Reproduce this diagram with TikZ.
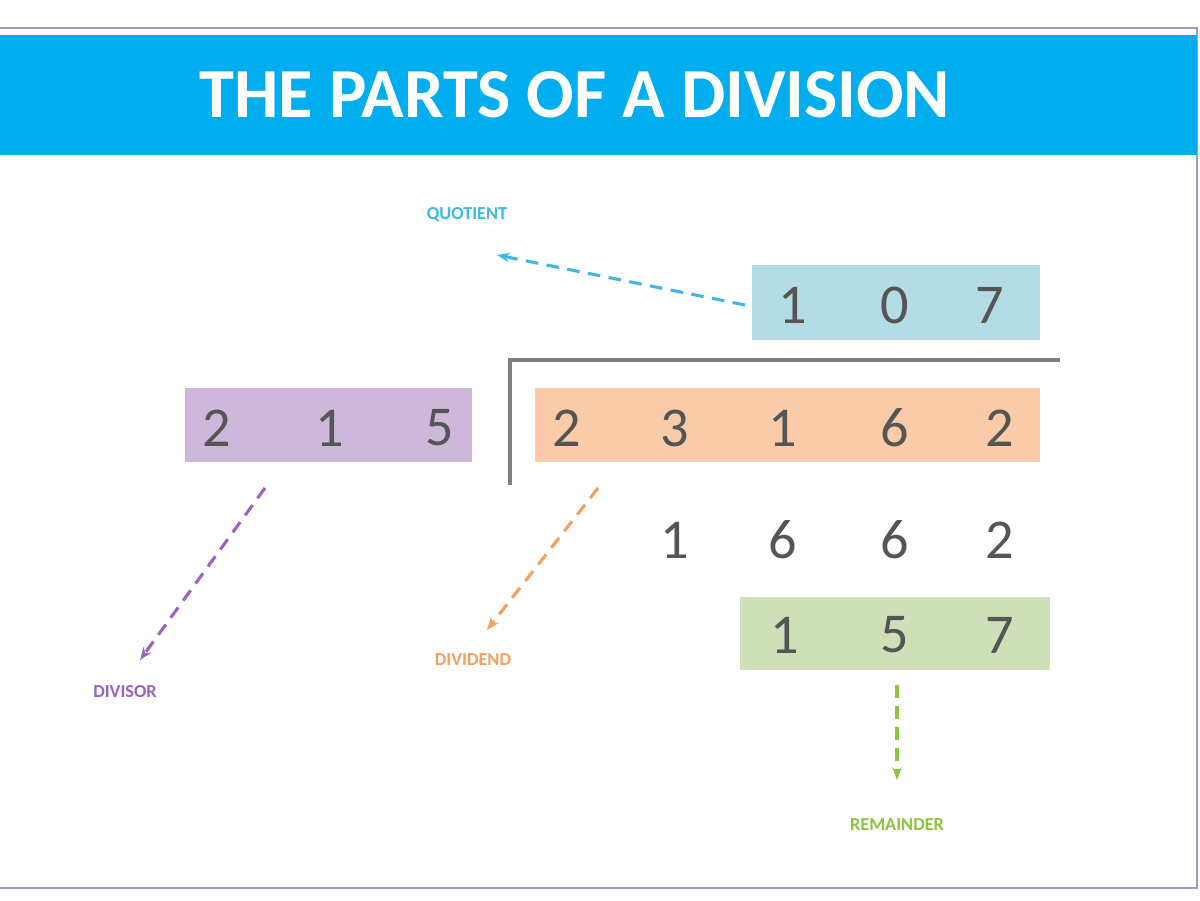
\documentclass[tikz,border=0pt]{standalone}
\usepackage{fontspec}
\setmainfont{Carlito}
\usepackage{tikz}
\usetikzlibrary{positioning,arrows.meta}
\definecolor{titleblue}{HTML}{00AEEF}
\definecolor{qcol}{HTML}{3FB8E6}
\definecolor{qfill}{HTML}{B3DCE4}
\definecolor{pcol}{HTML}{9A63C4}
\definecolor{pfill}{HTML}{CDB8DC}
\definecolor{ocol}{HTML}{F5A05E}
\definecolor{ofill}{HTML}{F9CBA9}
\definecolor{gcol}{HTML}{8CC63F}
\definecolor{gfill}{HTML}{CFDFB8}
\definecolor{digit}{HTML}{555555}
\begin{document}
\begin{tikzpicture}[
	x=0.025cm, y=-0.025cm,
	dig/.style={
		font=\fontsize{40}{40}\selectfont, text=digit
	},
	lbl/.style={
		font=\bfseries\fontsize{13}{13}\selectfont
	},
	hint/.style={
		-{Stealth[length=9pt]}, line width=2.2pt,
		dash pattern=on 9pt off 6pt
	}
	]
	\useasboundingbox (0,0) rectangle (1200,900);
	% Rahmen und Titel
	\draw[draw=blue!30!gray!60, line width=2pt, fill=white] (-5,28) rectangle (1197,888);
	\fill[titleblue] (-5,35) rectangle (1197,155);
	\node[text=white, font=\bfseries\fontsize{50}{50}\selectfont] (title) at (575,95) {THE PARTS OF A DIVISION};
	
	% Farbige Felder
	\fill[qfill] (752,265) rectangle (1040,340);
	\fill[pfill] (185,388) rectangle (472,462);
	\fill[ofill] (535,388) rectangle (1040,462);
	\fill[gfill] (740,597) rectangle (1050,670);
	
	% Divisionszeichen
	\draw[gray, line width=2.5pt] (510,485) -- (510,360) -- (1060,360);
	
	% Ziffern
	\foreach \d/\x in {1/793,0/895,7/990}
		\node[dig] at (\x,305) {\d};
	\foreach \d/\x in {2/217,1/330,5/440}
		\node[dig] at (\x,428) {\d};
	\foreach \d/\x in {2/567,3/675,1/783,6/895,2/1000}
		\node[dig] at (\x,428) {\d};
	\foreach \d/\x in {1/675,6/783,6/895,2/1000}
		\node[dig] at (\x,540) {\d};
	\foreach \d/\x in {1/785,5/895,7/1000}
		\node[dig] at (\x,635) {\d};
	
	% Beschriftungen
	\node[lbl, text=qcol] (quot) at (467,215) {QUOTIENT};
	\node[lbl, text=pcol] (divisor) at (125,692) {DIVISOR};
	\node[lbl, text=ocol] (dividend) at (473,660) {DIVIDEND};
	\node[lbl, text=gcol] (rem) at (897,825) {REMAINDER};
	\coordinate (qs) at (745,305);
	\coordinate (qe) at (497,255);
	\coordinate (ps) at (265,488);
	\coordinate (pe) at (140,660);
	\coordinate (os) at (598,488);
	\coordinate (oe) at (487,630);
	\coordinate (gs) at (897,685);
	\coordinate (ge) at (897,780);
	
	% Pfeile
	\draw[hint, qcol] (qs) -- (qe);
	\draw[hint, pcol] (ps) -- (pe);
	\draw[hint, ocol] (os) -- (oe);
	\draw[hint, gcol] (gs) -- (ge);
\end{tikzpicture}
\end{document}
